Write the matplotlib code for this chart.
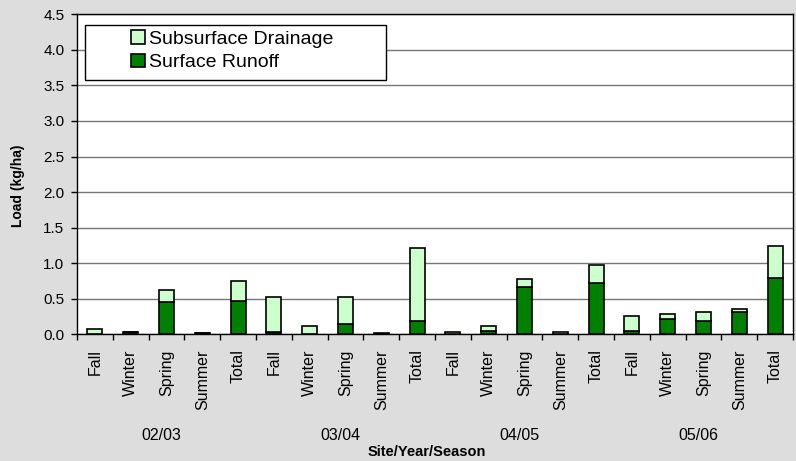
import numpy as np
import matplotlib
matplotlib.use('Agg')
import matplotlib.pyplot as plt
from matplotlib.patches import Rectangle
from matplotlib.ticker import FixedLocator, MultipleLocator, FormatStrFormatter

plt.rcParams['font.family'] = ['Liberation Sans', 'DejaVu Sans']

# data
seasons = ['Fall', 'Winter', 'Spring', 'Summer', 'Total']
years = ['02/03', '03/04', '04/05', '05/06']
surface = [0.0, 0.03, 0.45, 0.015, 0.47,
           0.03, 0.0, 0.15, 0.01, 0.19,
           0.0, 0.05, 0.67, 0.0, 0.72,
           0.05, 0.21, 0.19, 0.31, 0.79]
subsurface = [0.07, 0.005, 0.18, 0.005, 0.28,
              0.49, 0.11, 0.37, 0.005, 1.02,
              0.03, 0.07, 0.11, 0.03, 0.25,
              0.21, 0.07, 0.13, 0.04, 0.45]

labels = seasons * len(years)
x = np.arange(len(labels))

fig = plt.figure(figsize=(7.96, 4.61), dpi=100, facecolor='#DDDDDD')
ax = fig.add_axes([77/796, 1-334.3/461, 716/796, 320/461])
ax.set_facecolor('white')

ax.bar(x, surface, width=0.42, color='#008000', edgecolor='black', linewidth=1.2,
       label='Surface Runoff', zorder=3)
ax.bar(x, subsurface, width=0.42, bottom=surface, color='#CCFFCC', edgecolor='black',
       linewidth=1.2, label='Subsurface Drainage', zorder=3)

ax.set_xlim(-0.5, len(labels) - 0.5)
ax.set_ylim(0, 4.5)
ax.yaxis.set_major_locator(MultipleLocator(0.5))
ax.yaxis.set_major_formatter(FormatStrFormatter('%.1f'))
ax.grid(axis='y', color='#777777', linewidth=1.0, zorder=0)
ax.set_axisbelow(True)

for s in ax.spines.values():
    s.set_color('black')
    s.set_linewidth(1.0)

ax.tick_params(axis='y', direction='out', length=4, width=1, pad=5, labelsize=11, colors='black')
ax.set_xticks(x)
ax.set_xticklabels(labels, rotation=90, fontsize=11.5)
ax.tick_params(axis='x', which='major', length=0, pad=11)
ax.xaxis.set_minor_locator(FixedLocator(np.arange(-0.5, len(labels), 1)))
ax.tick_params(axis='x', which='minor', direction='out', length=4, width=1)

# year group labels
trans = matplotlib.transforms.blended_transform_factory(ax.transData, ax.transAxes)
for i, yr in enumerate(years):
    ax.text(i * len(seasons) + 1.85, -0.317, yr, transform=trans, ha='center', va='center',
            fontsize=11.5)

ax.set_xlabel('Site/Year/Season', fontsize=10.5, fontweight='bold')
ax.xaxis.set_label_coords(0.489, -0.345)
ax.set_ylabel('Load (kg/ha)', fontsize=10, fontweight='bold')
ax.yaxis.set_label_coords(-0.0726, 0.463)

# legend box
ax.add_patch(Rectangle((0.011, 0.795), 0.421, 0.171, transform=ax.transAxes,
                       facecolor='white', edgecolor='black', linewidth=1.0, zorder=4))
h, l = ax.get_legend_handles_labels()
leg = ax.legend(h[::-1], l[::-1], loc='upper left', bbox_to_anchor=(0.065, 0.975),
                frameon=False, fontsize=14, handlelength=0.7, handleheight=0.7,
                handletextpad=0.2, labelspacing=0.3, borderaxespad=0)
leg.set_zorder(5)

fig.savefig('out.png', dpi=100, facecolor=fig.get_facecolor())
